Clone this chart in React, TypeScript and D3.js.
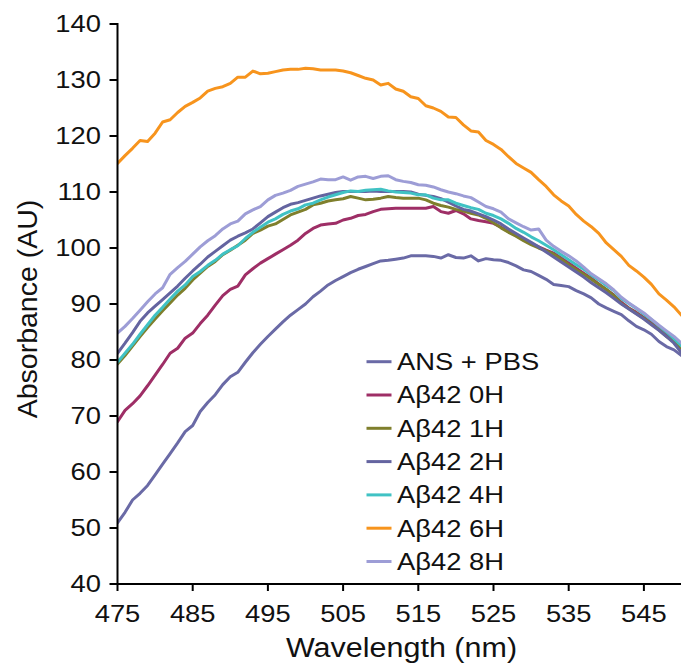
import React from "react";
import * as d3 from "d3";

const wavelengths: number[] = d3.range(475, 551);

const seriesNames = ["ANS + PBS", "Aβ42 0H", "Aβ42 1H", "Aβ42 2H", "Aβ42 4H", "Aβ42 6H", "Aβ42 8H"];
const seriesColors = ["#6A6AA6", "#9E2E66", "#7F7F2C", "#6464A0", "#40C2C4", "#F7941D", "#9D9DD6"];

const ansPbs = [50.9, 52.8, 55.0, 56.2, 57.6, 59.5, 61.4, 63.3, 65.2, 67.2, 68.3, 70.8, 72.4, 73.8, 75.6, 77.0, 77.8, 79.6, 81.3, 82.8, 84.2, 85.5, 86.8, 88.0, 89.0, 90.0, 91.3, 92.3, 93.4, 94.2, 94.9, 95.6, 96.2, 96.7, 97.2, 97.7, 97.8, 98.0, 98.2, 98.6, 98.6, 98.6, 98.5, 98.2, 98.8, 98.3, 98.2, 98.6, 97.7, 98.1, 97.9, 97.8, 97.4, 96.8, 96.1, 95.8, 95.1, 94.4, 93.5, 93.3, 93.1, 92.4, 91.8, 91.1, 90.0, 89.3, 88.7, 88.1, 87.0, 86.0, 85.4, 84.6, 83.3, 82.4, 81.8, 80.8];
const ab0h = [69.0, 71.0, 72.2, 73.6, 75.4, 77.3, 79.2, 81.2, 82.1, 83.9, 84.8, 86.5, 88.0, 89.8, 91.5, 92.6, 93.2, 95.2, 96.3, 97.3, 98.1, 98.9, 99.7, 100.5, 101.4, 102.6, 103.5, 104.1, 104.3, 104.4, 105.0, 105.3, 105.8, 106.0, 106.5, 106.9, 107.0, 107.1, 107.1, 107.1, 107.1, 107.1, 107.4, 106.5, 106.2, 106.7, 106.1, 105.2, 104.9, 104.7, 104.4, 103.7, 102.9, 102.2, 101.5, 100.8, 100.2, 99.6, 99.1, 98.2, 97.3, 96.4, 95.5, 94.6, 93.6, 92.6, 91.6, 90.3, 89.3, 88.5, 87.6, 86.6, 85.6, 84.5, 83.5, 82.3];
const ab1h = [79.3, 80.8, 82.5, 84.2, 85.8, 87.3, 88.8, 90.2, 91.6, 92.8, 94.3, 95.5, 96.7, 97.6, 98.8, 99.6, 100.5, 101.4, 102.6, 103.2, 103.9, 104.3, 105.1, 105.9, 106.4, 106.9, 107.7, 108.0, 108.4, 108.6, 108.8, 109.2, 108.9, 108.6, 108.7, 108.9, 109.2, 109.0, 108.9, 108.9, 108.9, 108.6, 108.0, 107.6, 107.3, 106.9, 106.6, 106.2, 105.9, 105.3, 104.5, 103.6, 102.8, 102.1, 101.3, 100.6, 100.0, 99.5, 98.9, 98.0, 97.0, 96.1, 95.3, 94.4, 93.5, 92.6, 91.5, 90.1, 89.2, 88.3, 87.4, 86.4, 85.4, 84.2, 83.2, 82.0];
const ab2h = [81.2, 83.0, 84.9, 86.9, 88.4, 89.6, 90.8, 92.0, 93.2, 94.6, 95.9, 97.1, 98.4, 99.4, 100.4, 101.4, 102.1, 102.7, 103.4, 104.5, 105.6, 106.4, 107.2, 107.8, 108.1, 108.5, 108.9, 109.3, 109.6, 109.9, 110.1, 110.1, 110.1, 110.1, 110.2, 110.1, 110.1, 110.1, 110.1, 110.0, 109.6, 109.4, 109.2, 108.8, 108.2, 107.5, 106.9, 106.6, 106.1, 105.6, 105.0, 104.3, 103.4, 102.6, 101.8, 101.0, 100.2, 99.3, 98.4, 97.5, 96.6, 95.7, 94.8, 93.8, 92.9, 92.0, 91.0, 90.0, 89.1, 88.2, 87.3, 86.3, 85.3, 84.2, 83.0, 81.3];
const ab4h = [79.6, 81.2, 82.8, 84.6, 86.3, 88.0, 89.4, 90.9, 92.3, 93.4, 94.9, 95.8, 96.9, 97.8, 98.9, 99.7, 100.4, 101.7, 102.8, 103.7, 104.6, 105.2, 106.0, 106.6, 107.0, 107.7, 108.0, 108.6, 109.1, 109.5, 109.9, 110.2, 110.1, 110.3, 110.4, 110.5, 110.2, 110.0, 109.9, 109.8, 109.5, 109.5, 108.9, 108.6, 108.6, 108.0, 107.6, 107.2, 106.9, 106.2, 105.8, 105.2, 104.4, 103.5, 102.8, 102.0, 101.3, 100.5, 99.7, 98.8, 97.9, 97.0, 96.2, 95.2, 94.3, 93.3, 92.4, 91.0, 90.1, 89.2, 88.2, 87.2, 86.1, 85.0, 83.8, 82.5];
const ab6h = [115.1, 116.5, 117.8, 119.2, 119.0, 120.5, 122.5, 122.9, 124.2, 125.3, 126.0, 126.8, 128.0, 128.5, 128.8, 129.4, 130.5, 130.5, 131.6, 131.1, 131.2, 131.5, 131.8, 131.9, 131.9, 132.1, 132.0, 131.8, 131.8, 131.8, 131.6, 131.3, 130.8, 130.3, 130.0, 129.1, 129.4, 128.4, 128.0, 127.0, 126.7, 125.4, 125.0, 124.4, 123.4, 123.3, 122.0, 120.9, 120.7, 119.2, 118.5, 117.6, 116.3, 115.1, 114.3, 113.5, 112.2, 111.0, 109.5, 108.4, 107.5, 106.0, 104.8, 103.8, 102.6, 100.9, 99.7, 98.5, 96.9, 95.9, 94.8, 93.5, 91.8, 90.7, 89.5, 88.0];
const ab8h = [84.8, 86.0, 87.4, 88.9, 90.4, 91.8, 92.9, 95.3, 96.5, 97.6, 98.9, 100.2, 101.3, 102.2, 103.4, 104.3, 104.8, 106.1, 106.8, 107.4, 108.6, 109.4, 109.8, 110.3, 111.0, 111.4, 111.8, 112.3, 112.2, 112.2, 112.7, 112.1, 112.7, 112.8, 112.4, 112.8, 112.9, 112.2, 111.9, 111.7, 111.3, 111.2, 110.9, 110.4, 110.0, 109.7, 109.3, 109.0, 108.2, 107.4, 107.0, 106.4, 105.2, 104.5, 103.8, 103.2, 103.4, 101.4, 100.3, 99.4, 98.6, 97.7, 96.6, 95.4, 94.5, 93.6, 92.5, 91.2, 90.2, 89.3, 88.4, 87.3, 86.2, 85.2, 84.2, 83.0];

const seriesValues = [ansPbs, ab0h, ab1h, ab2h, ab4h, ab6h, ab8h];

const yTicks = [40, 50, 60, 70, 80, 90, 100, 110, 120, 130, 140];
const xTicks = [475, 485, 495, 505, 515, 525, 535, 545];

const W = 681;
const H = 666;
const FONT = "'Liberation Sans', Arial, sans-serif";
const SX = 1.19;

export default function App() {
  const x = d3.scaleLinear().domain([475, 550]).range([117.5, 681.5]);
  const y = d3.scaleLinear().domain([40, 140]).range([584, 24]);
  const line = d3
    .line<[number, number]>()
    .x((d) => x(d[0]))
    .y((d) => y(d[1]));

  const axisX0 = x(475);
  const axisY0 = y(40);

  return (
    <svg
      width={W}
      height={H}
      style={{ position: "absolute", left: 0, top: 0, background: "#fff", display: "block" }}
      fontFamily={FONT}
    >
      <defs>
        <clipPath id="plot">
          <rect x={axisX0} y={0} width={W - axisX0} height={axisY0} />
        </clipPath>
      </defs>
      <g clipPath="url(#plot)">
        {seriesValues.map((vals, i) => (
          <path
            key={seriesNames[i]}
            d={line(wavelengths.map((w, j) => [w, vals[j]] as [number, number])) || ""}
            fill="none"
            stroke={seriesColors[i]}
            strokeWidth={3}
            strokeLinejoin="round"
            strokeLinecap="round"
          />
        ))}
      </g>

      {/* Y axis */}
      <line x1={axisX0} x2={axisX0} y1={y(140) - 1} y2={axisY0 + 1} stroke="#000" strokeWidth={2} />
      {yTicks.map((t) => (
        <g key={"y" + t}>
          <line x1={axisX0 - 8} x2={axisX0} y1={y(t)} y2={y(t)} stroke="#000" strokeWidth={2} />
          <text
            transform={`translate(101,${y(t)}) scale(${SX},1)`}
            textAnchor="end"
            dy="0.35em"
            fontSize={23}
            fill="#111"
          >
            {t}
          </text>
        </g>
      ))}

      {/* X axis */}
      <line x1={axisX0 - 1} x2={W} y1={axisY0} y2={axisY0} stroke="#000" strokeWidth={2} />
      {xTicks.map((t) => (
        <g key={"x" + t}>
          <line x1={x(t)} x2={x(t)} y1={axisY0} y2={axisY0 + 7} stroke="#000" strokeWidth={2} />
          <text
            transform={`translate(${x(t)},622) scale(${SX},1)`}
            textAnchor="middle"
            fontSize={23}
            fill="#111"
          >
            {t}
          </text>
        </g>
      ))}

      {/* Axis titles */}
      <text
        transform="translate(37,309) rotate(-90)"
        textAnchor="middle"
        fontSize={28.5}
        fill="#111"
      >
        Absorbance (AU)
      </text>
      <text
        transform={`translate(401.5,657) scale(1.13,1)`}
        textAnchor="middle"
        fontSize={27}
        fill="#111"
      >
        Wavelength (nm)
      </text>

      {/* Legend */}
      {seriesNames.map((name, i) => {
        const cy = 361.7 + i * 33.3;
        return (
          <g key={"lg" + name}>
            <line x1={366.5} x2={391.5} y1={cy} y2={cy} stroke={seriesColors[i]} strokeWidth={3} />
            <text
              transform={`translate(397,${cy + 8.3}) scale(${SX},1)`}
              fontSize={23}
              fill="#111"
            >
              {name}
            </text>
          </g>
        );
      })}
    </svg>
  );
}
